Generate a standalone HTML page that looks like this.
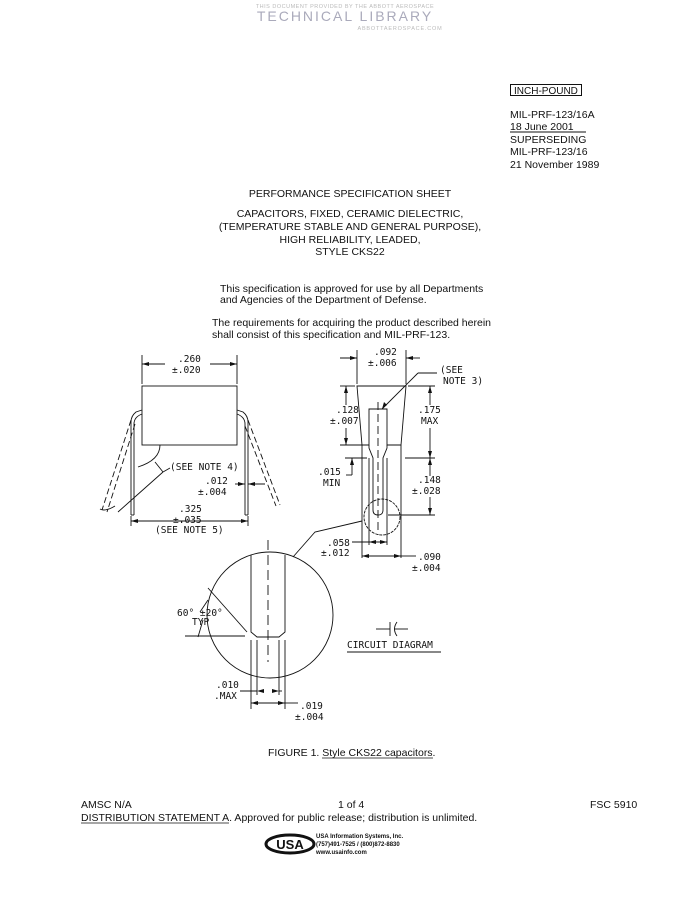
<!DOCTYPE html>
<html><head><meta charset="utf-8"><style>
html,body{margin:0;padding:0;background:#fff;}
svg{display:block;}
.a{font-family:"Liberation Sans",sans-serif;font-size:10.5px;fill:#111;}
.m{font-family:"DejaVu Sans Mono","Liberation Mono",monospace;font-size:9.5px;fill:#111;}
</style></head><body>
<svg width="700" height="906" viewBox="0 0 700 906" xmlns="http://www.w3.org/2000/svg">
<text x="345" y="8" text-anchor="middle" font-family="Liberation Sans,sans-serif" font-size="5.5" fill="#bbb" letter-spacing="0.5">THIS DOCUMENT PROVIDED BY THE ABBOTT AEROSPACE</text>
<text x="345" y="21" text-anchor="middle" font-family="Liberation Sans,sans-serif" font-size="14" fill="#aab" letter-spacing="2">TECHNICAL LIBRARY</text>
<text x="400" y="30" text-anchor="middle" font-family="Liberation Sans,sans-serif" font-size="5.5" fill="#bbb" letter-spacing="0.8">ABBOTTAEROSPACE.COM</text>

<rect x="510.5" y="84.5" width="71" height="11" fill="none" stroke="#111" stroke-width="1"/>
<text class="a" x="514" y="94" style="font-size:10px">INCH-POUND</text>
<text class="a" x="510" y="118">MIL-PRF-123/16A</text>
<text class="a" x="510" y="130">18 June 2001</text>
<line x1="510" y1="132" x2="586" y2="132" stroke="#111"/>
<text class="a" x="510" y="143">SUPERSEDING</text>
<text class="a" x="510" y="155">MIL-PRF-123/16</text>
<text class="a" x="510" y="168">21 November 1989</text>

<g class="a" text-anchor="middle">
<text x="350" y="197">PERFORMANCE SPECIFICATION SHEET</text>
<text x="350" y="217">CAPACITORS, FIXED, CERAMIC DIELECTRIC,</text>
<text x="350" y="230">(TEMPERATURE STABLE AND GENERAL PURPOSE),</text>
<text x="350" y="243">HIGH RELIABILITY, LEADED,</text>
<text x="350" y="255">STYLE CKS22</text>
</g>
<text class="a" x="220" y="292">This specification is approved for use by all Departments</text>
<text class="a" x="220" y="303">and Agencies of the Department of Defense.</text>
<text class="a" x="212" y="326">The requirements for acquiring the product described herein</text>
<text class="a" x="212" y="338">shall consist of this specification and MIL-PRF-123.</text>

<g fill="none" stroke="#111" stroke-width="0.9">
<rect x="142" y="386" width="95" height="59"/>
<line x1="142" y1="355" x2="142" y2="384"/><line x1="237" y1="355" x2="237" y2="384"/>
<line x1="142" y1="364" x2="165" y2="364"/><line x1="210" y1="364" x2="237" y2="364"/>
<path d="M142 410 L136 412 Q131 416 131 422 L131 515 M142 414 Q134 417 134 424 L134 515"/>
<path d="M237 410 L243 412 Q248 416 248 422 L248 515 M237 414 Q245 417 245 424 L245 515"/>
<path d="M131 420 L102 510 M135 424 L107 512" stroke-dasharray="6,3"/>
<path d="M248 420 L280 505 M245 426 L276 506" stroke-dasharray="6,3"/>
<line x1="131" y1="515" x2="134" y2="515"/><line x1="245" y1="515" x2="248" y2="515"/>
<path d="M160 445 Q160 460 138 467"/>
<line x1="155" y1="462" x2="163" y2="472"/><line x1="163" y1="472" x2="170" y2="468"/>
<path d="M163 472 L118 512"/>
<path d="M115 506 Q105 512 100 509"/>
<line x1="235" y1="484" x2="245" y2="484"/><line x1="248" y1="484" x2="265" y2="484"/>
<line x1="131" y1="516" x2="131" y2="526"/><line x1="248" y1="516" x2="248" y2="526"/>
<line x1="131" y1="521" x2="248" y2="521"/>

<path d="M357 386 L406 386 L401 445 L387 445 L387 409 L369 409 L369 445 L362 445 Z"/>
<path d="M369 445 L369 448 L373 458 L373 510 Q373 515 378 515 Q383 515 383 510 L383 458 L387 448 L387 445"/>
<line x1="362" y1="445" x2="362" y2="558"/><line x1="401" y1="445" x2="401" y2="558"/>
<line x1="369" y1="458" x2="369" y2="545"/><line x1="387" y1="458" x2="387" y2="545"/>
<line x1="378" y1="402" x2="378" y2="535" stroke-dasharray="8,4"/>
<circle cx="382" cy="517" r="18" stroke-dasharray="3,1"/>
<line x1="357" y1="350" x2="357" y2="384"/><line x1="406" y1="350" x2="406" y2="384"/>
<line x1="340" y1="358" x2="357" y2="358"/><line x1="406" y1="358" x2="420" y2="358"/>
<line x1="340" y1="386" x2="355" y2="386"/><line x1="346" y1="386" x2="346" y2="405"/>
<line x1="346" y1="428" x2="346" y2="445"/><line x1="340" y1="445" x2="362" y2="445"/>
<line x1="408" y1="386" x2="435" y2="386"/><line x1="430" y1="386" x2="430" y2="405"/>
<line x1="430" y1="428" x2="430" y2="476"/><line x1="405" y1="458" x2="435" y2="458"/>
<line x1="430" y1="497" x2="430" y2="515"/><line x1="388" y1="515" x2="435" y2="515"/>
<line x1="345" y1="458" x2="367" y2="458"/><line x1="352" y1="458" x2="352" y2="475"/><line x1="346" y1="475" x2="352" y2="475"/>
<line x1="382" y1="409" x2="418" y2="373"/><line x1="418" y1="373" x2="437" y2="373"/>
<line x1="352" y1="542" x2="387" y2="542"/>
<line x1="362" y1="556" x2="401" y2="556"/><line x1="401" y1="556" x2="416" y2="556"/>
<path d="M362 521 L315 532 L293 557"/>

<circle cx="270" cy="615" r="63"/>
<path d="M251 555 L251 632 L257 637 L279 637 L285 632 L285 555"/>
<line x1="251" y1="640" x2="251" y2="709"/><line x1="285" y1="640" x2="285" y2="709"/>
<line x1="257" y1="640" x2="257" y2="695"/><line x1="279" y1="640" x2="279" y2="695"/>
<line x1="268" y1="540" x2="268" y2="662" stroke-dasharray="10,5"/>
<line x1="208" y1="588" x2="247" y2="632"/>
<line x1="185" y1="636" x2="245" y2="636"/>
<path d="M198 637 L203 620 M208 600 L200 612"/>
<line x1="240" y1="691" x2="257" y2="691"/><line x1="279" y1="691" x2="282" y2="691"/>
<line x1="251" y1="703" x2="285" y2="703"/><line x1="285" y1="703" x2="298" y2="703"/>
<line x1="376" y1="629" x2="390" y2="629"/><line x1="390" y1="622" x2="390" y2="636"/>
<path d="M397 622 Q392 629 397 636"/><line x1="394" y1="629" x2="408" y2="629"/>
<line x1="347" y1="652" x2="441" y2="652"/>
</g>
<g fill="#111">
<path d="M142 364 l7 -2 v4z M237 364 l-7 -2 v4z"/>
<path d="M357 358 l-7 -2 v4z M406 358 l7 -2 v4z"/>
<path d="M346 386 l-2 7 h4z M346 445 l-2 -7 h4z M430 386 l-2 7 h4z M430 458 l-2 -7 h4z M430 458 l-2 7 h4z M430 515 l-2 -7 h4z"/>
<path d="M131 521 l7 -2 v4z M248 521 l-7 -2 v4z M245 484 l-7 -2 v4z M248 484 l7 -2 v4z"/>
<path d="M369 542 l7 -2 v4z M387 542 l-7 -2 v4z M362 556 l7 -2 v4z M401 556 l-7 -2 v4z"/>
<path d="M257 691 l7 -2 v4z M279 691 l-7 -2 v4z M251 703 l7 -2 v4z M285 703 l-7 -2 v4z"/>
<path d="M382 409 l2 -7 l3 3z M352 458 l-2 7 h4z"/>
</g>
<g class="m">
<text x="178" y="362">.260</text><text x="172" y="373">±.020</text>
<text x="170" y="470">(SEE NOTE 4)</text>
<text x="205" y="484">.012</text><text x="198" y="495">±.004</text>
<text x="179" y="512">.325</text><text x="173" y="523">±.035</text>
<text x="155" y="533">(SEE NOTE 5)</text>
<text x="374" y="355">.092</text><text x="368" y="366">±.006</text>
<text x="440" y="373">(SEE</text><text x="443" y="384">NOTE 3)</text>
<text x="336" y="413">.128</text><text x="330" y="424">±.007</text>
<text x="418" y="413">.175</text><text x="421" y="424">MAX</text>
<text x="318" y="475">.015</text><text x="323" y="486">MIN</text>
<text x="418" y="483">.148</text><text x="412" y="494">±.028</text>
<text x="327" y="546">.058</text><text x="321" y="556">±.012</text>
<text x="418" y="560">.090</text><text x="412" y="571">±.004</text>
<text x="177" y="616">60° ±20°</text><text x="192" y="625">TYP</text>
<text x="347" y="648">CIRCUIT DIAGRAM</text>
<text x="216" y="688">.010</text><text x="214" y="699">.MAX</text>
<text x="300" y="709">.019</text><text x="295" y="720">±.004</text>
</g>

<text class="a" x="268" y="756">FIGURE 1.  Style CKS22 capacitors.</text>
<line x1="322" y1="758" x2="433" y2="758" stroke="#111" stroke-width="0.8"/>
<text class="a" x="81" y="808">AMSC N/A</text>
<text class="a" x="338" y="808">1 of 4</text>
<text class="a" x="590" y="808">FSC 5910</text>
<text class="a" x="81" y="821">DISTRIBUTION STATEMENT A.  Approved for public release; distribution is unlimited.</text>
<line x1="81" y1="823" x2="229" y2="823" stroke="#111" stroke-width="0.8"/>
<ellipse cx="290" cy="844" rx="24" ry="9" fill="none" stroke="#111" stroke-width="3"/>
<text x="290" y="849" text-anchor="middle" font-family="Liberation Sans,sans-serif" font-weight="bold" font-size="13" fill="#111">USA</text>
<g font-family="Liberation Sans,sans-serif" font-weight="bold" font-size="6" fill="#111">
<text x="316" y="838">USA Information Systems, Inc.</text>
<text x="316" y="846">(757)491-7525 / (800)872-8830</text>
<text x="316" y="854">www.usainfo.com</text>
</g>
</svg>
</body></html>
